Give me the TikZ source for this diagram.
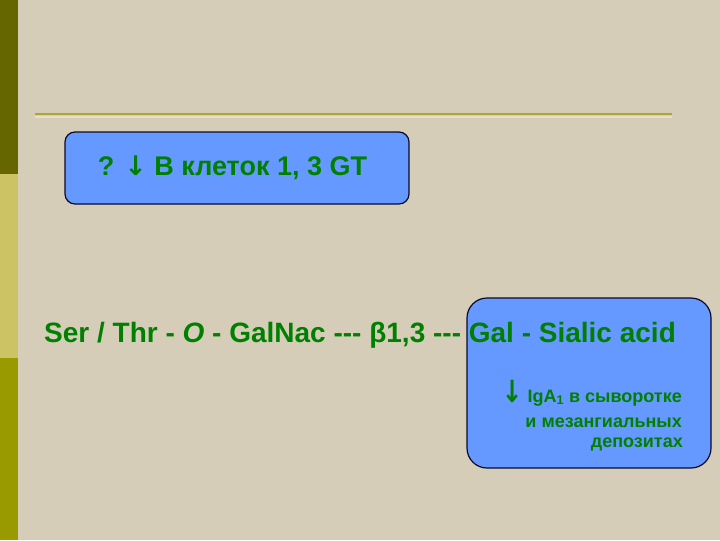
\documentclass[tikz,border=0pt]{standalone}
\usepackage{graphicx}
\usepackage{fontspec}
\setmainfont{Liberation Sans}
\newfontfamily\arrowfont{DejaVu Sans}
\definecolor{paper}{RGB}{214,205,184}
\definecolor{olivedark}{RGB}{102,102,0}
\definecolor{olivelight}{RGB}{204,196,100}
\definecolor{olivemid}{RGB}{153,153,0}
\definecolor{ruleline}{RGB}{176,166,40}
\definecolor{ruleshade}{RGB}{232,220,218}
\definecolor{boxblue}{RGB}{102,153,255}
\definecolor{boxedge}{RGB}{10,10,40}
\definecolor{txtgreen}{RGB}{0,128,0}
\newcommand{\downarr}{{\arrowfont\bfseries ↓}}

\begin{document}
\begin{tikzpicture}[scale=0.35146,
	bluebox/.style={fill=boxblue, draw=boxedge, line width=1.2pt},
	greentext/.style={text=txtgreen}]
			\tikzstyle{every node}+=[inner sep=0pt]
			\fill [paper] (0,0) rectangle (72,-54);
			\useasboundingbox (0,0) rectangle (72,-54);
			\fill [olivedark] (0,0) rectangle (1.8,-17.4);
			\fill [olivelight] (0,-17.4) rectangle (1.8,-35.8);
			\fill [olivemid] (0,-35.8) rectangle (1.8,-54);
			\draw [ruleshade, line width=1.5pt] (3.5,-11.7) -- (67.2,-11.7);
			\draw [ruleline, line width=2.5pt] (3.5,-11.4) -- (67.2,-11.4);
			\draw [bluebox, rounded corners=10pt] (6.5,-13.2) rectangle (40.9,-20.4);
			\draw [bluebox, rounded corners=20pt] (46.7,-29.8) rectangle (71.1,-46.8);
			\node [greentext, anchor=base, font=\bfseries\fontsize{27}{32}\selectfont] (question) at (23.25,-17.5) {? \downarr{} В клеток 1, 3 GT};
			\node [greentext, anchor=base west, font=\bfseries\fontsize{28}{32}\selectfont] (chain) at (4.4,-34.2) {Ser / Thr - \textit{O} - GalNac -{}-{}- β1,3 -{}-{}- Gal - Sialic acid};
			\node [greentext, anchor=base east, font=\bfseries\fontsize{18}{22}\selectfont] (serum) at (68.2,-40.2) {\scalebox{1.4}[1.7]{\downarr} IgA\textsubscript{1} в сыворотке};
			\node [greentext, anchor=base east, font=\bfseries\fontsize{18}{22}\selectfont] (mesang) at (68.2,-42.7) {и мезангиальных};
			\node [greentext, anchor=base east, font=\bfseries\fontsize{18}{22}\selectfont] (deposit) at (68.3,-44.7) {депозитах};
\end{tikzpicture}
\end{document}
